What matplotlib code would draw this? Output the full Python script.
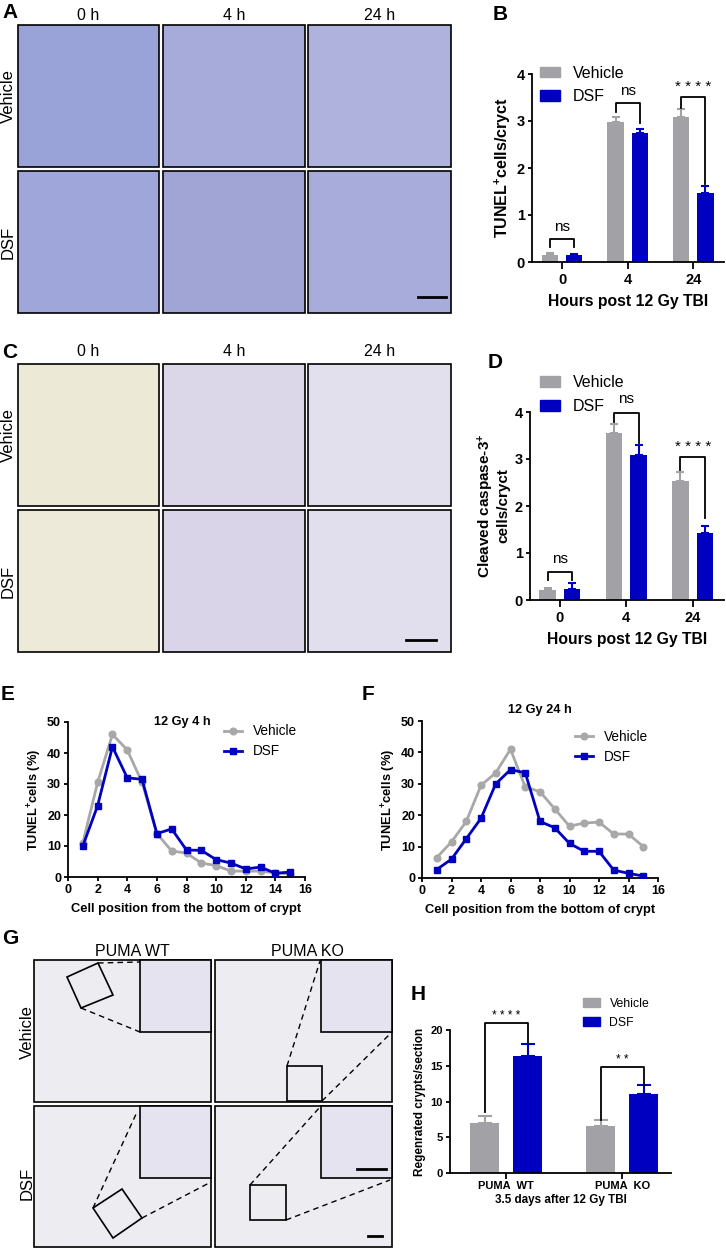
import matplotlib
matplotlib.use('Agg')
import matplotlib.pyplot as plt
from matplotlib.patches import Rectangle, Polygon
from matplotlib.patches import Patch
import numpy as np

plt.rcParams['font.family'] = ['Liberation Sans', 'DejaVu Sans']
plt.rcParams['mathtext.fontset'] = 'custom'
plt.rcParams['mathtext.rm'] = 'Liberation Sans'
plt.rcParams['mathtext.bf'] = 'Liberation Sans:bold'
plt.rcParams['mathtext.it'] = 'Liberation Sans:italic'

# ---------------- data ----------------
hours = ['0', '4', '24']
tunel_vehicle = [0.15, 2.98, 3.09]
tunel_vehicle_sem = [0.05, 0.11, 0.17]
tunel_dsf = [0.15, 2.74, 1.47]
tunel_dsf_sem = [0.03, 0.10, 0.15]

casp_vehicle = [0.21, 3.55, 2.54]
casp_vehicle_sem = [0.05, 0.19, 0.18]
casp_dsf = [0.23, 3.08, 1.43]
casp_dsf_sem = [0.13, 0.22, 0.14]

cell_position = [1, 2, 3, 4, 5, 6, 7, 8, 9, 10, 11, 12, 13, 14, 15]
pos4h_vehicle = [11, 30.5, 46, 41, 30.5, 14, 8.4, 7.7, 4.5, 3.7, 1.9, 1.9, 1.9, 1.3, 1.0]
pos4h_dsf = [10, 23, 42, 32, 31.5, 14, 15.5, 8.7, 8.6, 5.6, 4.5, 2.6, 3.2, 1.2, 1.6]
pos24h_vehicle = [6.5, 11.5, 18, 29.5, 33.5, 41, 29, 27.5, 22, 16.5, 17.5, 17.8, 14, 14, 10]
pos24h_dsf = [2.7, 6, 12.5, 19, 30, 34.5, 33.5, 18, 16, 11, 8.5, 8.5, 2.5, 1.5, 0.6]

puma_groups = ['PUMA  WT', 'PUMA  KO']
regen_vehicle = [7.0, 6.6]
regen_vehicle_sem = [1.0, 0.8]
regen_dsf = [16.4, 11.0]
regen_dsf_sem = [1.6, 1.3]

time_titles = ['0 h', '4 h', '24 h']
row_titles = ['Vehicle', 'DSF']
puma_titles = ['PUMA WT', 'PUMA KO']

# ---------------- style ----------------
GRAY = '#a2a2a6'
LGRAY = '#a8a8a8'
BLUE = '#0000c0'
W, H = 726, 1250
fig = plt.figure(figsize=(W / 100, H / 100), dpi=100)


def px_axes(x0, y0, x1, y1):
    return fig.add_axes([x0 / W, 1 - y1 / H, (x1 - x0) / W, (y1 - y0) / H])


# background overlay axes in pixel coordinates for image panels / labels
bg = fig.add_axes([0, 0, 1, 1])
bg.set_xlim(0, W)
bg.set_ylim(H, 0)
bg.axis('off')

cols_x = [(18, 159), (163, 305), (308, 451)]
A_rows = [(25, 167), (171, 313)]
C_rows = [(364, 506), (510, 652)]
A_colors = [['#9aa3d8', '#a6abda', '#aeb2dc'], ['#9fa7da', '#a0a5d6', '#a7acdb']]
C_colors = [['#ecead6', '#dcd7e8', '#e3e0ee'], ['#edeada', '#d9d4e7', '#e1deed']]

for rows, colors in ((A_rows, A_colors), (C_rows, C_colors)):
    for ri, (y0, y1) in enumerate(rows):
        for ci, (x0, x1) in enumerate(cols_x):
            bg.add_patch(Rectangle((x0, y0), x1 - x0, y1 - y0, facecolor=colors[ri][ci],
                                   edgecolor='black', lw=1.2))

# titles for A and C
for ci, (x0, x1) in enumerate(cols_x):
    bg.text((x0 + x1) / 2, 15, time_titles[ci], ha='center', va='center', fontsize=11.5)
    bg.text((x0 + x1) / 2, 352, time_titles[ci], ha='center', va='center', fontsize=11.5)
for ri in range(2):
    bg.text(8, sum(A_rows[ri]) / 2, row_titles[ri], rotation=90, ha='center', va='center', fontsize=12)
    bg.text(8, sum(C_rows[ri]) / 2, row_titles[ri], rotation=90, ha='center', va='center', fontsize=12)
# scale bars
bg.plot([418, 446], [297, 297], color='black', lw=2)
bg.plot([406, 436], [640, 640], color='black', lw=2)

# G panel
G_cols = [(34, 211), (215, 392)]
G_rows = [(960, 1102), (1106, 1247)]
for ri, (y0, y1) in enumerate(G_rows):
    for ci, (x0, x1) in enumerate(G_cols):
        bg.add_patch(Rectangle((x0, y0), x1 - x0, y1 - y0, facecolor='#ececf1',
                               edgecolor='black', lw=1.2))
        bg.add_patch(Rectangle((x1 - 71, y0), 71, 72, facecolor='#e6e3f0',
                               edgecolor='black', lw=1.2))
bg.text(132, 952, puma_titles[0], ha='center', va='center', fontsize=11.5)
bg.text(307, 952, puma_titles[1], ha='center', va='center', fontsize=11.5)
bg.text(27, 1032, row_titles[0], rotation=90, ha='center', va='center', fontsize=12)
bg.text(27, 1183, row_titles[1], rotation=90, ha='center', va='center', fontsize=12)
# zoom boxes and dashed guide lines
bg.add_patch(Polygon([(67, 977), (98, 963), (113, 995), (81, 1008)], closed=True,
                     fill=False, edgecolor='black', lw=1.2))
bg.plot([98, 140], [963, 962], 'k--', lw=1.0, dashes=(4, 3))
bg.plot([81, 140], [1008, 1032], 'k--', lw=1.0, dashes=(4, 3))
bg.add_patch(Rectangle((287, 1066), 35, 35, fill=False, edgecolor='black', lw=1.2))
bg.plot([287, 320], [1066, 961], 'k--', lw=1.0, dashes=(4, 3))
bg.plot([322, 392], [1101, 1032], 'k--', lw=1.0, dashes=(4, 3))
bg.add_patch(Polygon([(93, 1208), (122, 1189), (142, 1218), (113, 1238)], closed=True,
                     fill=False, edgecolor='black', lw=1.2))
bg.plot([93, 137], [1208, 1112], 'k--', lw=1.0, dashes=(4, 3))
bg.plot([142, 211], [1218, 1182], 'k--', lw=1.0, dashes=(4, 3))
bg.add_patch(Rectangle((250, 1185), 36, 35, fill=False, edgecolor='black', lw=1.2))
bg.plot([250, 320], [1185, 1107], 'k--', lw=1.0, dashes=(4, 3))
bg.plot([286, 390], [1220, 1180], 'k--', lw=1.0, dashes=(4, 3))
bg.plot([357, 386], [1169, 1169], color='black', lw=2)
bg.plot([368, 382], [1236, 1236], color='black', lw=2)

# panel labels
for lab, (x, y) in {'A': (10, 12), 'B': (500, 14), 'C': (10, 352), 'D': (495, 363),
                    'E': (8, 695), 'F': (368, 695), 'G': (10, 939), 'H': (418, 994)}.items():
    bg.text(x, y, lab, ha='center', va='center', fontsize=15, fontweight='bold')


def style_axes(ax, fs):
    for s in ('top', 'right'):
        ax.spines[s].set_visible(False)
    for s in ('left', 'bottom'):
        ax.spines[s].set_linewidth(1.3)
    ax.patch.set_alpha(0)
    ax.tick_params(width=1.3, labelsize=fs)
    for t in ax.get_xticklabels() + ax.get_yticklabels():
        t.set_fontweight('bold')


def bracket(ax, x1, x2, yl, ytop, yr, label, ty, fs):
    ax.plot([x1, x1, x2, x2], [yl, ytop, ytop, yr], color='black', lw=1.3, clip_on=False)
    ax.text((x1 + x2) / 2, ty, label, ha='center', va='center', fontsize=fs, clip_on=False)


def bar_panel(ax, veh, veh_e, dsf, dsf_e, labels, width, off, cap):
    x = np.arange(len(veh))
    ax.bar(x - off, veh, width, color=GRAY, zorder=2)
    ax.bar(x + off, dsf, width, color=BLUE, zorder=2)
    ax.errorbar(x - off, veh, yerr=[np.zeros(len(veh)), veh_e], fmt='none', ecolor=GRAY,
                elinewidth=1.5, capsize=cap, capthick=1.5, zorder=1)
    ax.errorbar(x + off, dsf, yerr=[np.zeros(len(dsf)), dsf_e], fmt='none', ecolor=BLUE,
                elinewidth=1.5, capsize=cap, capthick=1.5, zorder=1)
    ax.set_xticks(x)
    ax.set_xticklabels(labels)
    return x


def bar_legend(ax, anchor, fs, hl, hh, sp):
    ax.legend(handles=[Patch(color=GRAY, label='Vehicle'), Patch(color=BLUE, label='DSF')],
              loc='upper left', bbox_to_anchor=anchor, frameon=False, fontsize=fs,
              handlelength=hl, handleheight=hh, handletextpad=0.8, labelspacing=sp,
              borderpad=0, borderaxespad=0)


off = 0.185
# ---------------- B ----------------
axB = px_axes(532, 74, 724, 262)
bar_panel(axB, tunel_vehicle, tunel_vehicle_sem, tunel_dsf, tunel_dsf_sem, hours, 0.25, off, 2.9)
axB.set_ylim(0, 4)
axB.set_xlim(-0.46, 2.47)
axB.set_yticks([0, 1, 2, 3, 4])
style_axes(axB, 10.5)
axB.tick_params(axis='x', length=5, pad=3)
axB.tick_params(axis='y', length=3, pad=2)
axB.set_ylabel(r'TUNEL$^{\mathbf{+}}$cells/cryct', fontsize=11.5, fontweight='bold', labelpad=3)
axB.set_xlabel('Hours post 12 Gy TBI', fontsize=11.3, fontweight='bold', labelpad=5)
bracket(axB, -off, off, 0.32, 0.49, 0.32, 'ns', 0.75, 11)
bracket(axB, 1 - off, 1 + off, 3.19, 3.38, 2.96, 'ns', 3.64, 11)
bracket(axB, 2 - off, 2 + off, 3.27, 3.51, 1.65, '* * * *', 3.72, 11)
bar_legend(axB, (0.04, 1.045), 11.5, 1.25, 0.65, 0.55)

# ---------------- D ----------------
axD = px_axes(530, 412, 724, 600)
bar_panel(axD, casp_vehicle, casp_vehicle_sem, casp_dsf, casp_dsf_sem, hours, 0.25, off, 2.9)
axD.set_ylim(0, 4)
axD.set_xlim(-0.45, 2.47)
axD.set_yticks([0, 1, 2, 3, 4])
style_axes(axD, 10.5)
axD.tick_params(axis='x', length=5, pad=3)
axD.tick_params(axis='y', length=3, pad=2)
axD.set_ylabel('Cleaved caspase-3$^{\\mathbf{+}}$\ncells/cryct', fontsize=11, fontweight='bold',
               labelpad=3, linespacing=1.1)
axD.set_xlabel('Hours post 12 Gy TBI', fontsize=11.3, fontweight='bold', labelpad=5)
bracket(axD, -off, off, 0.43, 0.60, 0.43, 'ns', 0.87, 11)
bracket(axD, 1 - off, 1 + off, 3.79, 3.98, 3.34, 'ns', 4.27, 11)
bracket(axD, 2 - off, 2 + off, 2.77, 3.04, 1.74, '* * * *', 3.25, 11)
bar_legend(axD, (0.05, 1.195), 11.5, 1.25, 0.65, 0.55)


# ---------------- E / F ----------------
def line_panel(ax, veh, dsf, title, tx, ty, leg_anchor):
    ax.plot(cell_position, veh, color=LGRAY, lw=2, marker='o', ms=4.8, label='Vehicle', zorder=2)
    ax.plot(cell_position, dsf, color=BLUE, lw=2, marker='s', ms=4.8, label='DSF', zorder=3)
    ax.set_xlim(0, 16)
    ax.set_ylim(0, 50)
    ax.set_xticks(range(0, 17, 2))
    ax.set_yticks(range(0, 51, 10))
    style_axes(ax, 9)
    ax.tick_params(length=3, pad=2)
    ax.set_xlabel('Cell position from the bottom of crypt', fontsize=9.3, fontweight='bold', labelpad=5)
    ax.set_ylabel(r'TUNEL$^{\mathbf{+}}$cells (%)', fontsize=9.3, fontweight='bold', labelpad=2)
    ax.text(tx, ty, title, ha='center', va='center', fontsize=9.2, fontweight='bold', clip_on=False)
    ax.legend(loc='upper left', bbox_to_anchor=leg_anchor, frameon=False, fontsize=9.8,
              handlelength=1.3, handletextpad=0.8, labelspacing=0.45, borderpad=0, borderaxespad=0)


axE = px_axes(68, 722, 305, 877)
line_panel(axE, pos4h_vehicle, pos4h_dsf, '12 Gy 4 h', 7.7, 50, (0.66, 0.985))
axF = px_axes(422, 721, 658, 878)
line_panel(axF, pos24h_vehicle, pos24h_dsf, '12 Gy 24 h', 8.0, 53.5, (0.65, 0.945))

# ---------------- H ----------------
axH = px_axes(450, 1030, 671, 1173)
bar_panel(axH, regen_vehicle, regen_vehicle_sem, regen_dsf, regen_dsf_sem, puma_groups,
          0.25, off, 5.2)
axH.set_ylim(0, 20)
axH.set_xlim(-0.483, 1.42)
axH.set_yticks([0, 5, 10, 15, 20])
style_axes(axH, 8)
axH.tick_params(axis='x', length=4, pad=2)
axH.tick_params(axis='y', length=3, pad=2)
axH.set_ylabel('Regenrated crypts/section', fontsize=8.5, fontweight='bold', labelpad=3)
axH.set_xlabel('3.5 days after 12 Gy TBI', fontsize=8.4, fontweight='bold', labelpad=2)
bracket(axH, -off, off, 8.5, 21.0, 18.2, '* * * *', 21.9, 8.5)
bracket(axH, 1 - off, 1 + off, 7.4, 14.8, 12.3, '* *', 15.8, 8.5)
bar_legend(axH, (0.60, 1.225), 8.8, 1.4, 0.7, 0.55)

fig.savefig('out.png', dpi=100)
